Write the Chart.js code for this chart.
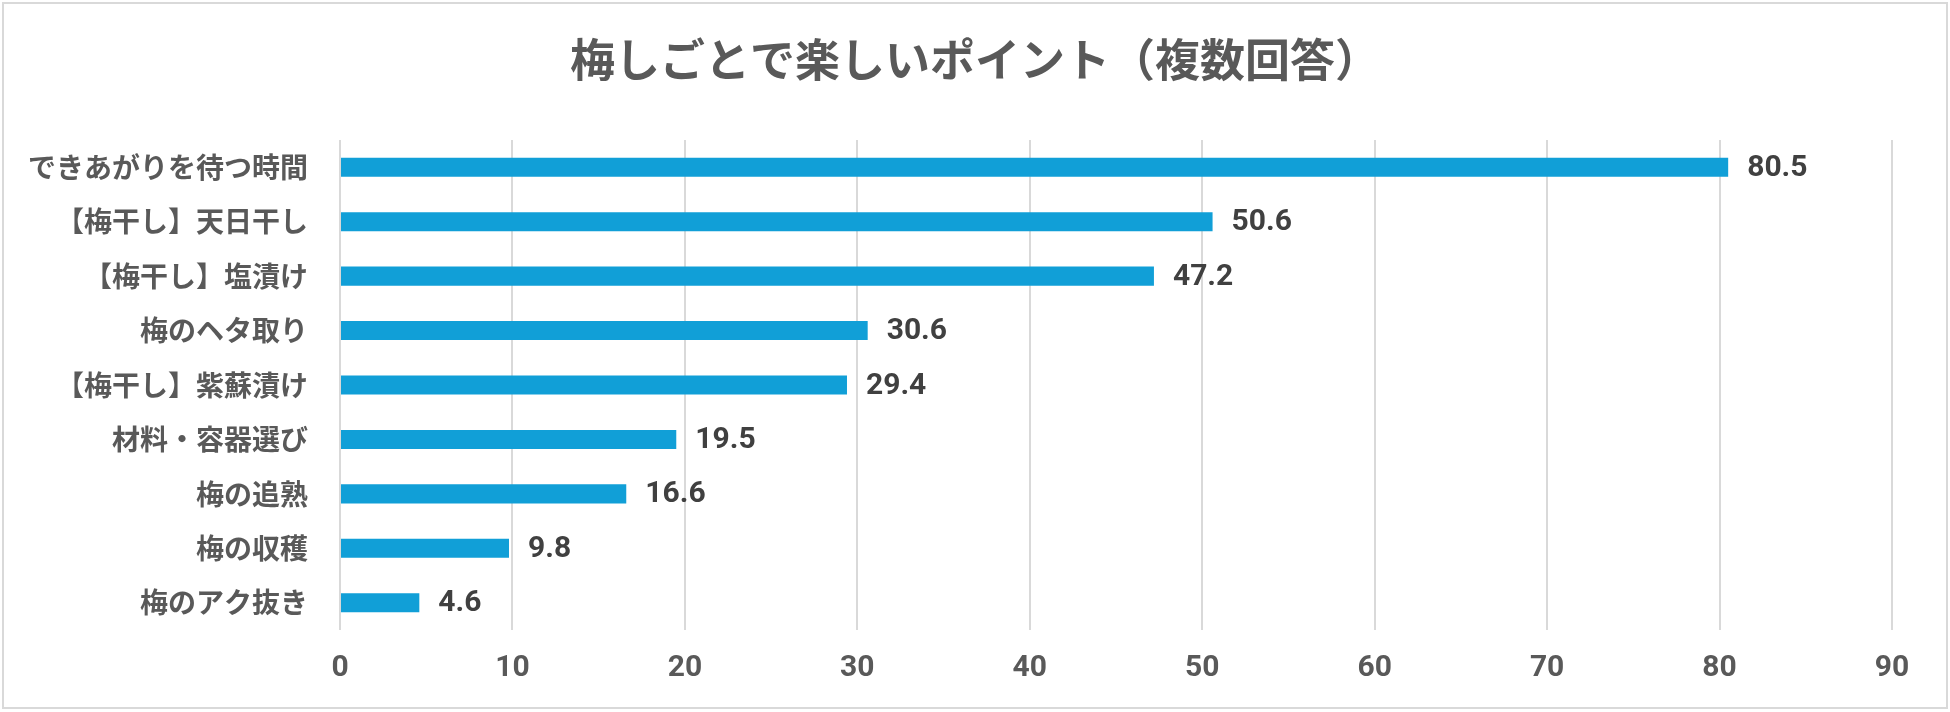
<!DOCTYPE html>
<html>
<head>
<meta charset="utf-8">
<script src="https://cdn.jsdelivr.net/npm/chart.js@4.4.1/dist/chart.umd.min.js"></script>
<style>
html,body{margin:0;padding:0;background:#fff;}
#wrap{position:relative;width:1950px;height:712px;}
#frame{position:absolute;left:2px;top:2px;width:1942px;height:703px;border:2px solid #D9D9D9;box-sizing:content-box;pointer-events:none;}
canvas{display:block;}
</style>
</head>
<body>
<div id="wrap">
<canvas id="c" width="1950" height="712"></canvas>
<div id="frame"></div>
</div>
<script>
const titleText = '梅しごとで楽しいポイント（複数回答）';
const categories = ['できあがりを待つ時間','【梅干し】天日干し','【梅干し】塩漬け','梅のヘタ取り','【梅干し】紫蘇漬け','材料・容器選び','梅の追熟','梅の収穫','梅のアク抜き'];
const values = [80.5, 50.6, 47.2, 30.6, 29.4, 19.5, 16.6, 9.8, 4.6];
const xTicks = [0,10,20,30,40,50,60,70,80,90];

const FONT = '"Noto Sans CJK JP", "Noto Sans", sans-serif';
const NUMFONT = 'Roboto, "Noto Sans", sans-serif';

const labelPlugin = {
  id: 'valueLabels',
  afterDatasetsDraw(chart) {
    const ctx = chart.ctx;
    const meta = chart.getDatasetMeta(0);
    ctx.save();
    ctx.font = 'bold 30px ' + NUMFONT;
    ctx.fillStyle = '#404040';
    ctx.textAlign = 'left';
    ctx.textBaseline = 'middle';
    meta.data.forEach((bar, i) => {
      ctx.fillText(values[i].toFixed(1), bar.x + 19, bar.y + 1);
    });
    ctx.restore();
  }
};

// Title centred on the whole chart (as in the Excel original)
const centredTitle = {
  id: 'centredTitle',
  afterDraw(chart) {
    const ctx = chart.ctx;
    ctx.save();
    ctx.font = 'bold 45px ' + FONT;
    ctx.fillStyle = '#595959';
    ctx.textAlign = 'center';
    ctx.textBaseline = 'middle';
    ctx.fillText(titleText, chart.width / 2, 60);
    ctx.restore();
  }
};

new Chart(document.getElementById('c'), {
  type: 'bar',
  data: {
    labels: categories,
    datasets: [{
      data: values,
      backgroundColor: '#119FD7',
      borderWidth: 0,
      barPercentage: 0.7,
      categoryPercentage: 0.5
    }]
  },
  options: {
    indexAxis: 'y',
    responsive: false,
    animation: false,
    devicePixelRatio: 1,
    layout: { padding: { left: 0, right: 58, top: 140, bottom: 0 } },
    plugins: {
      legend: { display: false },
      tooltip: { enabled: false },
      title: { display: false }
    },
    scales: {
      x: {
        min: 0, max: 90,
        afterBuildTicks(s) { s.ticks = xTicks.map(v => ({ value: v })); },
        afterFit(s) { s.height = 82; },
        grid: { color: '#D9D9D9', lineWidth: 2, drawTicks: false },
        border: { display: false },
        ticks: {
          color: '#595959',
          font: { family: NUMFONT, size: 30, weight: 'bold' },
          padding: 20
        }
      },
      y: {
        afterFit(s) { s.width = 340; },
        grid: { display: false, drawTicks: false },
        border: { display: false },
        ticks: {
          color: '#595959',
          font: { family: FONT, size: 28, weight: 'bold' },
          padding: 32
        }
      }
    }
  },
  plugins: [labelPlugin, centredTitle]
});
</script>
</body>
</html>
